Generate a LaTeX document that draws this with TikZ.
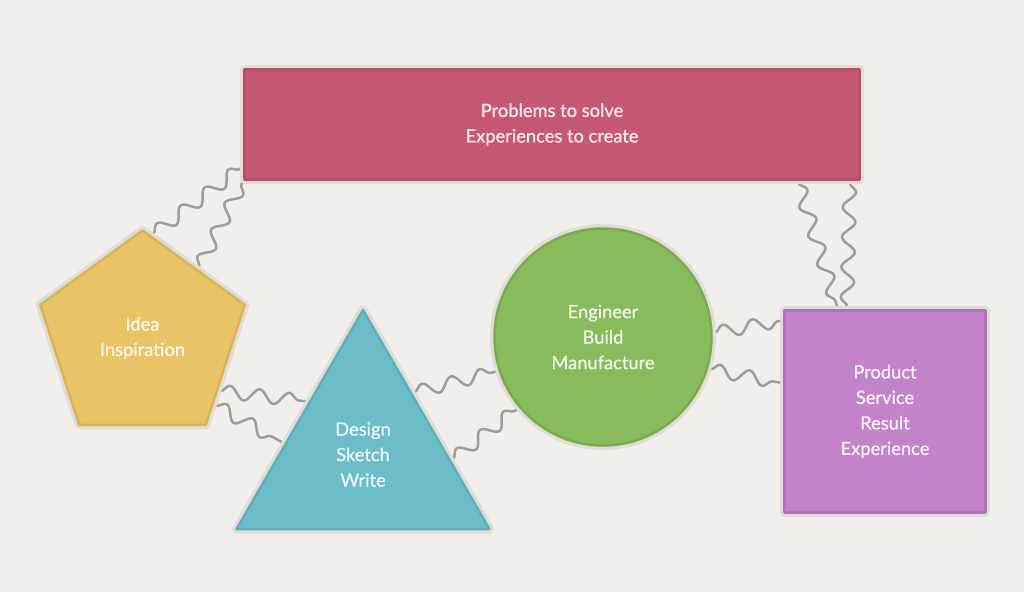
\documentclass[tikz,border=0pt]{standalone}
\usepackage{fontspec}
\setmainfont{Lato}[FakeBold=0.7]
\usetikzlibrary{shapes.geometric,decorations.pathmorphing}
\definecolor{paper}{HTML}{F1EFEB}
\definecolor{rim}{HTML}{E0DDD8}
\definecolor{wire}{HTML}{9E9E9E}
\definecolor{redfill}{HTML}{C75873}
\definecolor{rededge}{HTML}{BA4D69}
\definecolor{yelfill}{HTML}{E8C466}
\definecolor{yeledge}{HTML}{DAB458}
\definecolor{tealfill}{HTML}{6CBCC9}
\definecolor{tealedge}{HTML}{5FB0BD}
\definecolor{grnfill}{HTML}{88BB5B}
\definecolor{grnedge}{HTML}{7AAC4E}
\definecolor{purfill}{HTML}{C283C8}
\definecolor{puredge}{HTML}{B273BA}
\pgfdeclarelayer{bg}
\pgfsetlayers{bg,main}
\tikzset{
  blob/.style 2 args={fill=#1,draw=#2,line width=2.5pt,line join=round,inner sep=0pt,
    text=white,text opacity=.88,align=center,font=\fontsize{18.3}{25.5}\selectfont,
    preaction={draw=rim,line width=9pt,line join=round}},
  wire/.style={draw=wire,line width=2.5pt,line cap=round,decorate,
    decoration={snake,segment length=30pt,amplitude=6.5pt,pre length=2pt,post length=2pt}}
}
\begin{document}
\begin{tikzpicture}[x=1pt,y=-1pt]
\begin{pgfonlayer}{bg}
  \fill[paper] (0,0) rectangle (1024,592);
\end{pgfonlayer}
\node[blob={redfill}{rededge},minimum width=615pt,minimum height=110pt] (prob) at (552,124.5)
  {Problems to solve\\Experiences to create};
\node[blob={yelfill}{yeledge},regular polygon,regular polygon sides=5,minimum size=215pt] (idea) at (142.5,338)
  {Idea\\Inspiration};
\node[blob={tealfill}{tealedge},regular polygon,regular polygon sides=3,minimum size=292pt] (design) at (363,456)
  {\raisebox{5pt}{\begin{tabular}{@{}c@{}}Design\\Sketch\\Write\end{tabular}}};
\node[blob={grnfill}{grnedge},circle,minimum size=217pt] (build) at (603,337)
  {Engineer\\Build\\Manufacture};
\node[blob={purfill}{puredge},minimum width=201pt,minimum height=202pt] (prod) at (885,411.5)
  {Product\\Service\\Result\\Experience};
\begin{pgfonlayer}{bg}
  \draw[wire] (idea.85) -- ([yshift=-42pt]prob.west);
  \draw[wire] (idea.51) -- (prob.south west);
  \draw[wire] (idea.-35) -- (design.135);
  \draw[wire] (idea.-43) -- (design.171);
  \draw[wire] (design.52) -- (build.198);
  \draw[wire] (design.-3) -- (build.220);
  \draw[wire] (build.2) -- ([yshift=-11pt]prod.north west);
  \draw[wire] (build.-17) -- ([yshift=-74pt]prod.north west);
  \draw[wire] ([xshift=-63pt]prob.south east) -- ([xshift=-47pt]prod.north);
  \draw[wire] ([xshift=-11pt]prob.south east) -- ([xshift=-38pt]prod.north);
\end{pgfonlayer}
\end{tikzpicture}
\end{document}
